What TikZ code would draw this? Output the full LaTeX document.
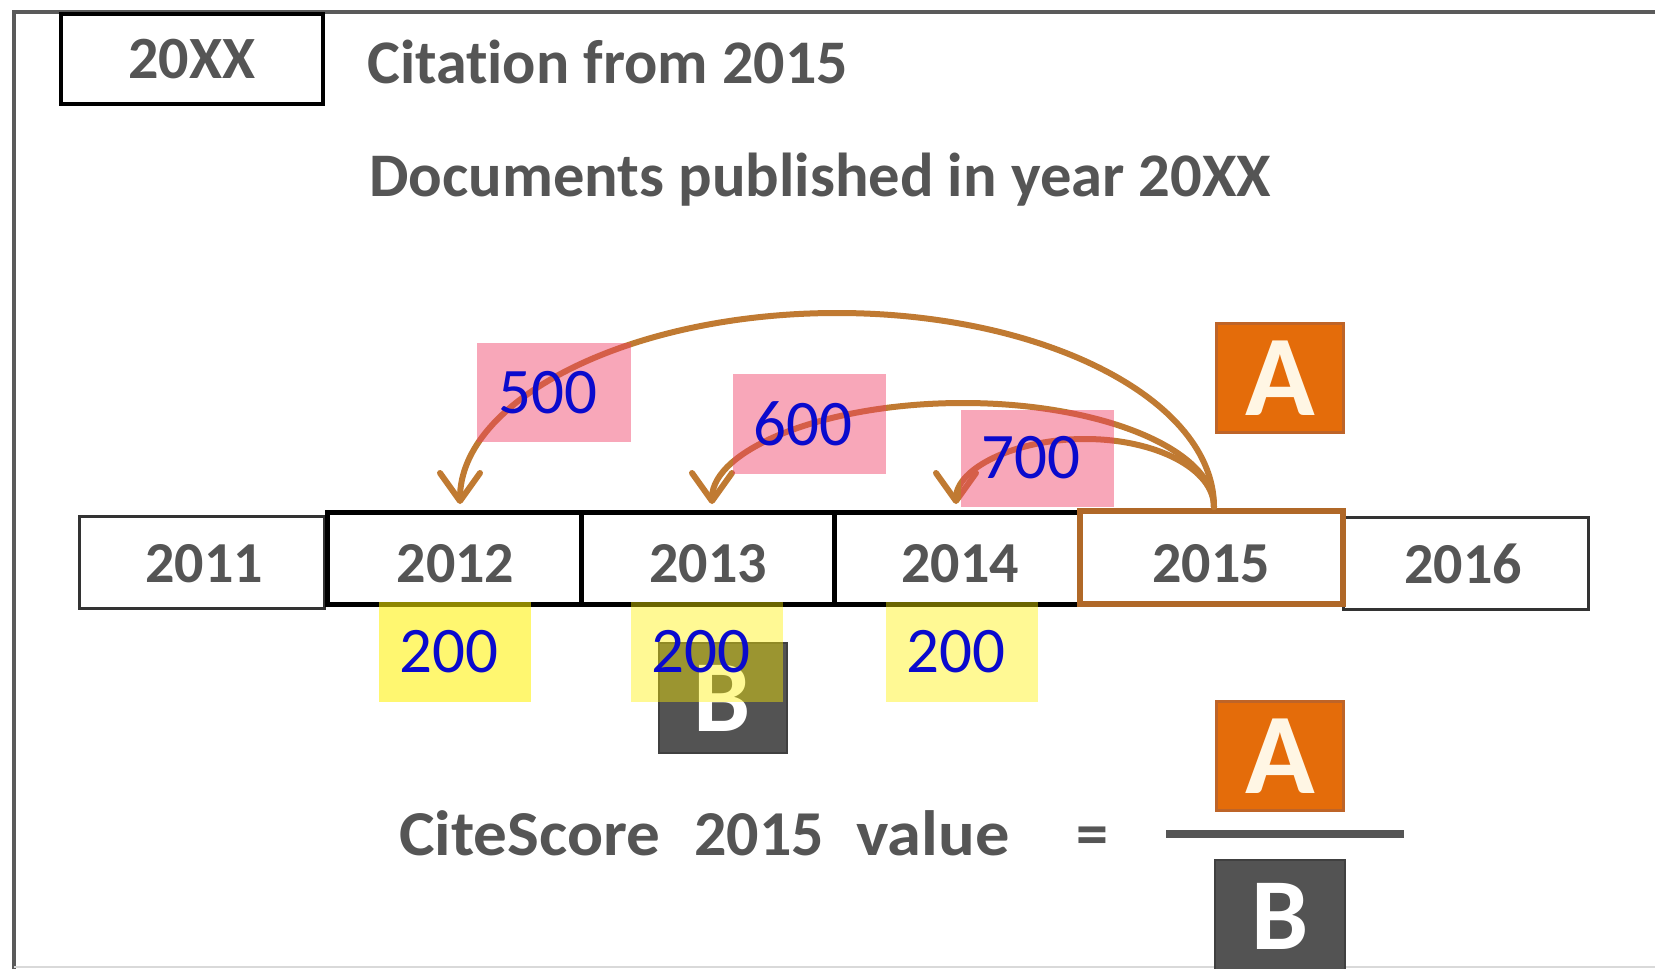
\documentclass[tikz,border=0pt]{standalone}
\usepackage{fontspec}
\setmainfont{Carlito}[Ligatures=NoCommon]
\usetikzlibrary{arrows.meta}
\definecolor{txtgray}{RGB}{85,85,85}
\definecolor{arcbrown}{RGB}{192,122,50}
\definecolor{boxbrown}{RGB}{176,104,40}
\definecolor{aorange}{RGB}{228,108,10}
\definecolor{aborder}{RGB}{190,100,40}
\definecolor{bgray}{RGB}{83,83,83}
\definecolor{numblue}{RGB}{10,10,205}
\definecolor{pinkfill}{RGB}{240,60,100}
\definecolor{acream}{RGB}{255,246,228}
\definecolor{framegray}{RGB}{90,90,90}
\newcommand\fsz[1]{\fontsize{#1}{#1}\selectfont}
\begin{document}
\begin{tikzpicture}[x=1pt,y=-1pt,
  yearthin/.style={draw=black!80, line width=3pt, inner sep=0pt},
  yearthick/.style={draw=black, line width=5pt, inner sep=0pt},
  yeartxt/.style={text=txtgray, font=\fsz{58}\bfseries, inner sep=0pt},
  titletxt/.style={text=txtgray, font=\fsz{62}\bfseries, inner sep=0pt},
  formtxt/.style={text=txtgray, font=\fsz{64}\bfseries, inner sep=0pt, anchor=base west},
  pinkbox/.style={fill=pinkfill, fill opacity=0.45, text opacity=1, text=numblue, font=\fsz{65}, inner sep=0pt},
  yellowbox/.style={fill=yellow, text opacity=1, text=numblue, font=\fsz{65}, inner sep=0pt, minimum width=152pt, minimum height=100pt},
  abox/.style={fill=aorange, draw=aborder, line width=3pt, minimum width=127pt, minimum height=109pt, inner sep=0pt, text=acream, font=\fsz{115}\bfseries},
  bbox/.style={fill=bgray, draw=black!75, line width=2pt, minimum width=128pt, minimum height=110pt, inner sep=0pt, text=white, font=\fsz{102}\bfseries},
  citearc/.style={draw=arcbrown, line width=6pt, line cap=round,
    -{Straight Barb[length=28pt,width=40pt,line cap=round,line join=round]}}
]
\useasboundingbox (0,0) rectangle (1655,969);
\fill[white] (0,0) rectangle (1655,969);
% frame
\draw[framegray, line width=4pt] (14,969) -- (14,12) -- (1655,12);
\draw[black!15, line width=2pt] (14,967) -- (1655,967);

% header
\node[draw=black, line width=4pt, minimum width=262pt, minimum height=90pt, inner sep=0pt, text=txtgray, font=\fsz{60}\bfseries] (n20xx) at (192,59) {20XX};
\node[titletxt, anchor=base west] (cite) at (367,83) {Citation from 2015};
\node[titletxt, anchor=base west] (docs) at (369,196) {\scalebox{1.01}[1]{Documents published in year 20XX}};

% timeline boxes
\node[yearthin, minimum width=245pt, minimum height=92pt] (b11) at (202,562.5) {};
\node[yearthin, minimum width=245.5pt, minimum height=92pt] (b16) at (1465.75,563.5) {};
\node[yearthick, minimum width=253.5pt, minimum height=92pt] (b12) at (454.25,558) {};
\node[yearthick, minimum width=253.5pt, minimum height=92pt] (b13) at (707.75,558) {};
\node[yearthick, minimum width=244.5pt, minimum height=92pt] (b14) at (956.75,558) {};
\node[draw=boxbrown, line width=6pt, minimum width=263pt, minimum height=93pt, inner sep=0pt] (b15) at (1211.5,557.5) {};

\node[yeartxt] (t11) at (204,563.5) {2011};
\node[yeartxt] (t12) at (455.5,564) {2012};
\node[yeartxt] (t13) at (708,564) {2013};
\node[yeartxt] (t14) at (960,564) {2014};
\node[yeartxt] (t15) at (1211,564) {2015};
\node[yeartxt] (t16) at (1463,564) {2016};

% small B box
\node[bbox] (bsmall) at (722.5,698) {B};

% arcs
\coordinate (src) at (1214,507);
\coordinate (tip12) at (460,504);
\coordinate (tip13) at (712,504);
\coordinate (tip14) at (956,504);
\draw[citearc] (src) .. controls (1214,400) and (1045,313) .. (837,313)
  .. controls (629,313) and (460,400) .. (tip12);
\draw[citearc] (src) .. controls (1214,449.6) and (1101.6,403) .. (963,403)
  .. controls (824.4,403) and (712,449.6) .. (tip13);
\draw[citearc] (src) .. controls (1214,469) and (1156,439) .. (1085,439)
  .. controls (1014,439) and (956,469) .. (tip14);

% citation counts
\node[pinkbox, minimum width=154pt, minimum height=99pt] (p500) at (554,392.5) {500\kern12pt};
\node[pinkbox, minimum width=153pt, minimum height=100pt] (p600) at (809,424) {600\kern12pt};
\node[pinkbox, minimum width=153pt, minimum height=97pt] (p700) at (1037,458) {700\kern12pt};

% document counts
\node[yellowbox, fill opacity=0.56] (y200a) at (455,652) {200\kern12pt};
\node[yellowbox, fill opacity=0.42] (y200b) at (707,652) {200\kern12pt};
\node[yellowbox, fill opacity=0.42] (y200c) at (962,652) {200\kern12pt};

% A box top
\node[abox] (atop) at (1280,378) {A};

% formula
\node[formtxt] (fcs) at (399,855) {\scalebox{1.05}[1]{CiteScore}};
\node[formtxt] (fyr) at (694,855) {2015};
\node[formtxt] (fval) at (856,855) {\scalebox{1.07}[1]{value}};
\node[formtxt] (feq) at (1076,855) {=};
\node[abox] (afrac) at (1280,756) {A};
\draw[txtgray, line width=8pt] (1166,834) -- (1404,834);
\fill[bgray] (1215,860) rectangle (1345,969);
\draw[black!75, line width=2pt] (1215,969) -- (1215,860) -- (1345,860) -- (1345,969);
\node[text=white, font=\fsz{102}\bfseries, inner sep=0pt] (bfrac) at (1280,916) {B};
\end{tikzpicture}
\end{document}
